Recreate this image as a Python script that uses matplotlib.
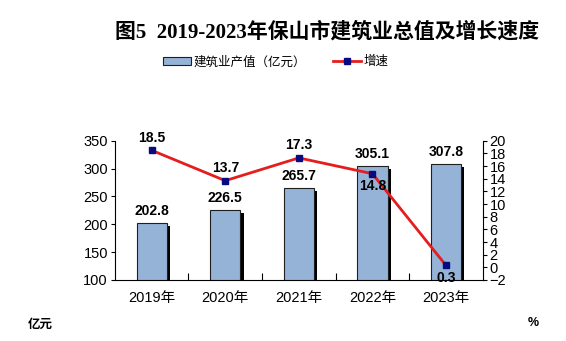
import numpy as np
import matplotlib
matplotlib.use("Agg")
import matplotlib.pyplot as plt
import matplotlib.patheffects as pe

plt.rcParams['font.family'] = ['Liberation Sans', 'Noto Sans CJK SC', 'DejaVu Sans']

# 数据
years = ["2019年", "2020年", "2021年", "2022年", "2023年"]
output = [202.8, 226.5, 265.7, 305.1, 307.8]   # 建筑业产值（亿元）
growth = [18.5, 13.7, 17.3, 14.8, 0.3]          # 增速 %
growth_below = [False, False, False, True, True]  # 标签放在点下方

BAR_COLOR = "#95B3D7"
LINE_COLOR = "#E41E1E"
MARK_COLOR = "#0A0A80"

fig = plt.figure(figsize=(5.66, 3.41), dpi=100)
ax = fig.add_axes([0.203, 0.179, 0.650, 0.408])
ax2 = ax.twinx()

x = np.arange(len(years))
bars = ax.bar(x, output, width=0.41, color=BAR_COLOR, edgecolor="#1F1F1F",
              linewidth=0.8, zorder=2)
for b in bars:
    b.set_path_effects([pe.SimplePatchShadow(offset=(2.3, -2.2),
                                             shadow_rgbFace="black", alpha=1.0),
                        pe.Normal()])

for xi, v in zip(x, output):
    ax.text(xi, v + 9, f"{v:.1f}", ha="center", va="bottom",
            fontsize=10, fontweight="bold")

ax.set_xlim(-0.5, len(years) - 0.5)
ax.set_ylim(100, 350)
ax.set_yticks(np.arange(100, 351, 50))
ax.set_xticks(x)
ax.set_xticklabels(years)
ax.set_xticks(np.arange(0.5, len(years) - 1, 1), minor=True)
ax.tick_params(axis="x", which="major", length=0, pad=8, labelsize=10.5)
ax.tick_params(axis="x", which="minor", direction="in", length=5, width=0.8)
ax.tick_params(axis="y", direction="out", length=3, labelsize=10.5, pad=2)
for s in ["top", "right"]:
    ax.spines[s].set_visible(False)

ax2.plot(x, growth, color=LINE_COLOR, linewidth=2, marker="s",
         markersize=5, markerfacecolor=MARK_COLOR,
         markeredgecolor=MARK_COLOR, zorder=3)
for xi, v, below in zip(x, growth, growth_below):
    if below:
        ax2.text(xi, v - 0.9, f"{v:.1f}", ha="center", va="top",
                 fontsize=10, fontweight="bold")
    else:
        ax2.text(xi, v + 0.9, f"{v:.1f}", ha="center", va="bottom",
                 fontsize=10, fontweight="bold")
ax2.set_ylim(-2, 20)
ax2.set_yticks(np.arange(-2, 21, 2))
ax2.tick_params(axis="y", direction="out", length=3, labelsize=10.5, pad=2)
for s in ["top", "left", "bottom"]:
    ax2.spines[s].set_visible(False)

fig.text(0.578, 0.905, "图5  2019-2023年保山市建筑业总值及增长速度",
         ha="center", va="center", fontsize=15, fontweight="bold",
         family=["Liberation Serif", "Noto Sans CJK SC"])

handles = [plt.Rectangle((0, 0), 1, 1, facecolor=BAR_COLOR, edgecolor="#1F1F1F",
                         linewidth=0.8),
           plt.Line2D([], [], color=LINE_COLOR, linewidth=2, marker="s",
                      markersize=5, markerfacecolor=MARK_COLOR,
                      markeredgecolor=MARK_COLOR)]
fig.legend(handles, ["建筑业产值（亿元）", "增速"], loc="center",
           bbox_to_anchor=(0.487, 0.818), ncol=2, frameon=False, fontsize=9,
           handlelength=2.2, handleheight=0.7, handletextpad=0.2,
           columnspacing=2.2)

fig.text(0.072, 0.047, "亿元", ha="center", va="center", fontsize=9,
         fontweight="bold")
fig.text(0.942, 0.053, "%", ha="center", va="center", fontsize=9,
         fontweight="bold")

fig.savefig("out.png", dpi=100)
